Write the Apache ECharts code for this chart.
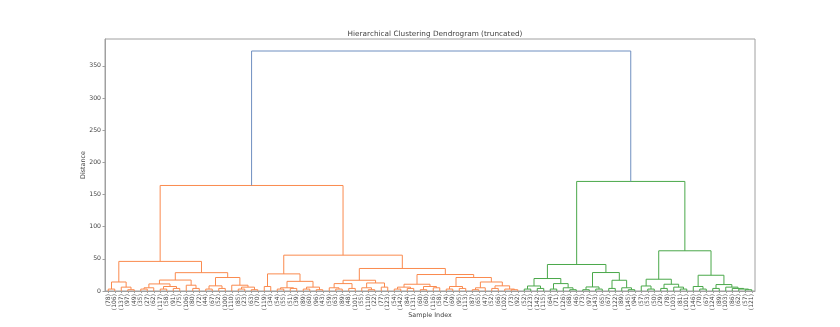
<!DOCTYPE html>
<html>
<head>
<meta charset="utf-8">
<script src="https://cdn.jsdelivr.net/npm/echarts@6/dist/echarts.min.js"></script>
<style>
  html, body { margin: 0; padding: 0; background: #fff; }
  #chart { width: 840px; height: 327px; }
</style>
</head>
<body>
<div id="chart"></div>
<script>
// Sample counts held by each truncated leaf, in dendrogram order.
const leafCounts = [
  78, 106, 137, 97, 49, 35, 27, 62, 117, 58, 91, 75, 106, 80, 72, 44, 67, 52, 100, 110, 85, 23, 63, 70,
  119, 34, 54, 55, 51, 39, 89, 60, 96, 43, 59, 63, 89, 48, 101, 55, 110, 22, 77, 123, 54, 142, 84, 131,
  60, 60, 116, 58, 74, 69, 95, 113, 87, 65, 47, 52, 66, 102, 73, 92,
  52, 123, 142, 115, 64, 71, 126, 68, 46, 73, 97, 143, 65, 67, 122, 89, 145, 94, 57, 53, 50, 29, 78, 103,
  81, 101, 146, 70, 67, 124, 89, 103, 86, 62, 57, 121
];

// Merge trees: [height, left, right]; a bare number is a leaf position.
const orangeLeft = [46,
  [14, [3, 0, 1], [6, 2, [2, 3, 4]]],
  [28.5,
    [17,
      [11, [5, [3, 5, 6], 7], [7, [3, 8, 9], [4, 10, 11]]],
      [9, 12, [4, 13, 14]]],
    [21,
      [8, [3, 15, 16], [4, 17, 18]],
      [9, 19, [6, [3, 20, 21], [2, 22, 23]]]]]];

const orangeRight = [55.7,
  [26.6, [7, 24, 25],
    [15, [5, [3, 26, 27], [4, 28, 29]], [6, [3, 30, 31], [2, 32, 33]]]],
  [35,
    [16.7,
      [11.5, [5, 34, [3, 35, 36]], [4, 37, 38]],
      [12.5, [5, 39, [2, 40, 41]], [6, 42, 43]]],
    [25.6,
      [10.5, [6, [3, 44, 45], [4, 46, 47]], [7, [2, 48, 49], [5, 50, 51]]],
      [21,
        [7, [3, 52, 53], [4, 54, 55]],
        [14, [5, [2, 56, 57], 58], [8, [4, 59, 60], [3, 61, [2, 62, 63]]]]]]]];

const greenLeft = [41.2,
  [19.4, [7.8, [3, 64, 65], [4, 66, 67]], [11.5, [3, 68, 69], [5, 70, [2, 71, 72]]]],
  [28.7, [6.3, [2, 73, 74], [3, 75, 76]], [16.7, [4, 77, 78], [5, 79, [2, 80, 81]]]]];

const greenRight = [62.5,
  [18.3, [7.8, 82, [3, 83, 84]], [10.5, [4, 85, 86], [6, 87, [3, 88, 89]]]],
  [24.5, [7, 90, [3, 91, 92]], [10, [4, 93, 94], [6, 95, [4, 96, [3, 97, [2, 98, 99]]]]]]];

const orangeHeight = 164;
const greenHeight = 170.3;
const rootHeight = 373;
const yTicks = [0, 50, 100, 150, 200, 250, 300, 350];

const COLORS = { root: '#6f8fc0', orange: '#fa8a4e', green: '#4aa84a' };
const FONT = 'DejaVu Sans';

const leafLabels = leafCounts.map(c => '(' + c + ')');

// Walk a merge tree, collecting the U-shaped links scipy-style (x = 10*i + 5).
const links = [];
function layout(node, color) {
  if (typeof node === 'number') return { x: 10 * node + 5, h: 0 };
  const [h, l, r] = node;
  const a = layout(l, color);
  const b = layout(r, color);
  links.push({ pts: [[a.x, a.h], [a.x, h], [b.x, h], [b.x, b.h]], color });
  return { x: (a.x + b.x) / 2, h };
}
const orangeTop = layout([orangeHeight, orangeLeft, orangeRight], COLORS.orange);
const greenTop = layout([greenHeight, greenLeft, greenRight], COLORS.green);
links.push({
  pts: [[orangeTop.x, orangeTop.h], [orangeTop.x, rootHeight], [greenTop.x, rootHeight], [greenTop.x, greenTop.h]],
  color: COLORS.root
});

const chart = echarts.init(document.getElementById('chart'), null, { renderer: 'canvas' });
const axisGrey = '#a0a0a0';
const textGrey = '#444';
const nameStyle = { fontFamily: FONT, fontSize: 6.4, fill: textGrey, align: 'center', verticalAlign: 'middle' };

chart.setOption({
  animation: false,
  title: {
    text: 'Hierarchical Clustering Dendrogram (truncated)',
    left: 430, top: 26, textAlign: 'center',
    textStyle: { fontFamily: FONT, fontSize: 7.3, fontWeight: 'normal', color: textGrey }
  },
  graphic: [
    { type: 'text', x: 430, y: 315, style: Object.assign({ text: 'Sample Index' }, nameStyle) },
    { type: 'text', x: 83, y: 165, rotation: Math.PI / 2, style: Object.assign({ text: 'Distance' }, nameStyle) }
  ],
  grid: {
    left: 105, right: 85, top: 39, bottom: 36,
    show: true, borderColor: axisGrey, borderWidth: 1, backgroundColor: 'transparent'
  },
  xAxis: [
    {
      type: 'category', data: leafLabels, boundaryGap: true, position: 'bottom',
      axisLine: { show: true, lineStyle: { color: axisGrey, width: 1 } },
      axisTick: { show: true, alignWithLabel: true, length: 2, lineStyle: { color: axisGrey } },
      axisLabel: { interval: 0, rotate: 90, fontSize: 6, margin: 3, color: textGrey, fontFamily: FONT },
      splitLine: { show: false }
    },
    { type: 'value', min: 0, max: 1000, show: false }
  ],
  yAxis: {
    type: 'value', min: 0, max: rootHeight * 1.05, interval: 50,
    axisLine: { show: true, lineStyle: { color: axisGrey, width: 1 } },
    axisTick: { show: true, length: 2.5, customValues: yTicks, lineStyle: { color: axisGrey } },
    axisLabel: {
      customValues: yTicks, fontSize: 6.2, margin: 4, color: textGrey, fontFamily: FONT,
      formatter: v => (v % 50 === 0 ? String(v) : '')
    },
    splitLine: { show: false }
  },
  series: [{
    type: 'custom',
    xAxisIndex: 1,
    yAxisIndex: 0,
    silent: true,
    clip: false,
    encode: { x: 0, y: 1 },
    data: links.map((l, i) => [(l.pts[1][0] + l.pts[2][0]) / 2, l.pts[1][1], i]),
    renderItem: (params, api) => {
      const link = links[api.value(2)];
      return {
        type: 'polyline',
        shape: { points: link.pts.map(p => api.coord(p)) },
        style: { stroke: link.color, fill: null, lineWidth: 1 }
      };
    }
  }]
});
</script>
</body>
</html>
